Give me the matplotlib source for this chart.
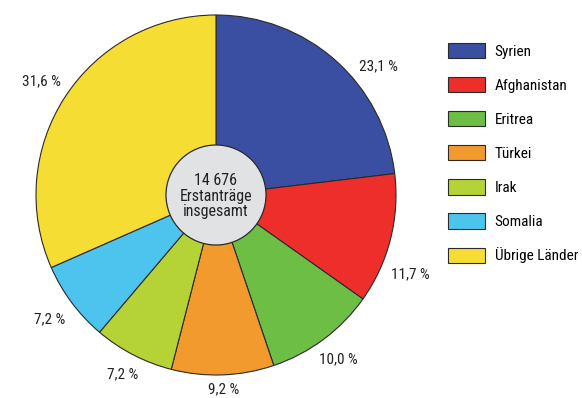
import matplotlib
matplotlib.use("Agg")
import matplotlib.pyplot as plt
from matplotlib.patches import Circle
import numpy as np

# Asylum first applications by country of origin (share in %)
countries = ["Syrien", "Afghanistan", "Eritrea", "Türkei", "Irak", "Somalia", "Übrige Länder"]
shares = [23.1, 11.7, 10.0, 9.2, 7.2, 7.2, 31.6]
total_text = "14 676\nErstanträge\ninsgesamt"

colors = ["#3A4FA1", "#EE2E2B", "#6DBE45", "#F39A2F", "#B5D337", "#4DC4EE", "#F6DD34"]

plt.rcParams['font.family'] = ['Roboto Condensed', 'Liberation Sans', 'DejaVu Sans']
fs = 11

fig = plt.figure(figsize=(5.82, 3.98), dpi=100)
ax = fig.add_axes([0, 0, 1, 1])

# work in pixel units: pie centre and radius
cx, cy, r = 216, 203, 180

wedges, _ = ax.pie(shares, colors=colors, startangle=90, counterclock=False,
                   center=(cx, cy), radius=r,
                   wedgeprops=dict(edgecolor='#2a2a2a', linewidth=0.8))

# percentage labels around the pie (first two sit a bit lower than mid-angle)
nudge = [-10, -8, 0, 0, 0, 0, 0]
for i, w in enumerate(wedges):
    ang = np.deg2rad((w.theta1 + w.theta2) / 2 + nudge[i])
    # keep a roughly constant gap between label box and the rim
    dist = r + 11 + abs(np.cos(ang)) * 19 + abs(np.sin(ang)) * 3
    label = f"{shares[i]:.1f} %".replace('.', ',')
    ax.text(cx + dist * np.cos(ang), cy + dist * np.sin(ang), label,
            ha='center', va='center', fontsize=fs, color='#222222')

# centre circle with total
ax.add_patch(Circle((cx, cy), 50, facecolor='#E1E2E4', edgecolor='#2a2a2a', linewidth=0.9, zorder=3))
ax.text(cx, cy - 1, total_text, ha='center', va='center', fontsize=fs + 0.5,
        linespacing=1.05, color='#222222', zorder=4)

ax.set_xlim(0, 582)
ax.set_ylim(0, 398)
ax.set_aspect('equal')
ax.axis('off')

fig.legend(wedges, countries, loc='upper left',
           bbox_to_anchor=(448 / 582, 1 - 43 / 398),
           frameon=False, fontsize=fs, borderpad=0, borderaxespad=0,
           handlelength=2.45, handleheight=1.15, handletextpad=0.6,
           labelspacing=1.2)

fig.savefig("out.png", dpi=100)
